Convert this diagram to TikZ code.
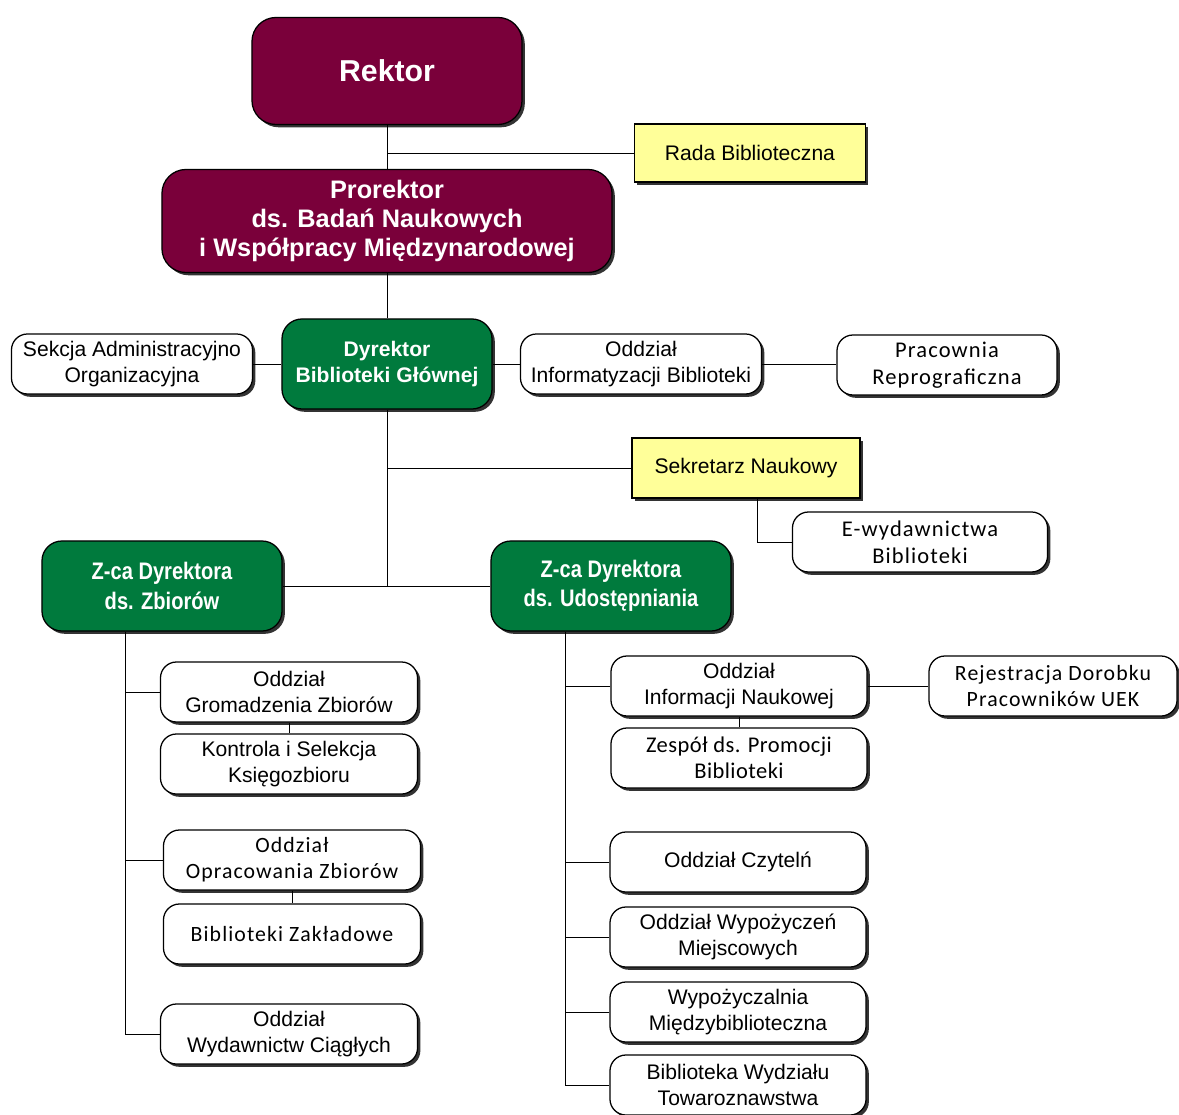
\documentclass[tikz,border=0pt]{standalone}
\usepackage{fontspec}
\setmainfont{Liberation Sans}
\newfontfamily\narrowfont[FakeStretch=0.84]{Liberation Sans}
\newfontfamily\calfont[LetterSpace=5]{Carlito}
\usetikzlibrary{shadows}
\definecolor{rektorred}{RGB}{122,0,58}
\definecolor{dyrgreen}{RGB}{0,122,61}
\definecolor{radayellow}{RGB}{255,255,153}

\begin{document}
\begin{tikzpicture}[x=0.025cm,y=-0.025cm,
  every node/.style={draw,line width=0.9pt,align=center,inner sep=2pt,
    font=\fontsize{15}{18.5}\selectfont,
    drop shadow={shadow xshift=2pt,shadow yshift=-2pt,fill=black!80,opacity=1}},
  unit/.style={rounded corners=0.4cm,fill=white,minimum height=1.5cm},
  calunit/.style={unit,font=\calfont\fontsize{15.5}{18.5}\selectfont},
  yellowbox/.style={fill=radayellow,minimum height=1.5cm},
  redbox/.style={fill=rektorred,text=white,rounded corners=0.6cm},
  greenbox/.style={fill=dyrgreen,text=white,rounded corners=0.5cm,minimum height=2.25cm},
  link/.style={line width=0.7pt}]
  \useasboundingbox (0,0) rectangle (1179,1115);

  % top
  \node[redbox,minimum width=6.75cm,minimum height=2.675cm,font=\bfseries\fontsize{21.5}{24}\selectfont] (rektor) at (387,71) {Rektor};
  \node[yellowbox,minimum width=5.775cm,minimum height=1.45cm] (rada) at (750,153) {Rada Biblioteczna};
  \node[redbox,minimum width=11.25cm,minimum height=2.575cm,font=\bfseries\fontsize{18}{20.6}\selectfont] (prorektor) at (387,221) {Prorektor\\ds. Badań Naukowych\\i Współpracy Międzynarodowej};

  % dyrektor row
  \node[greenbox,minimum width=5.25cm,font=\bfseries\fontsize{15}{18.5}\selectfont] (dyrektor) at (387,364) {Dyrektor\\Biblioteki Głównej};
  \node[unit,minimum width=6.025cm] (sekcja) at (132,364) {Sekcja Administracyjno\\Organizacyjna};
  \node[unit,minimum width=6.025cm] (informat) at (641,364) {Oddział\\Informatyzacji Biblioteki};
  \node[calunit,minimum width=5.5cm,font=\calfont\fontsize{16}{19}\selectfont] (reprogr) at (947,365) {Pracownia\\Reprograficzna};
  \node[yellowbox,minimum width=5.7cm] (sekretarz) at (746,468) {Sekretarz Naukowy};
  \node[calunit,minimum width=6.375cm,font=\calfont\fontsize{16}{19}\selectfont] (ewyd) at (920,542) {E-wydawnictwa\\Biblioteki};

  % zastepcy
  \node[greenbox,minimum width=6cm,font=\narrowfont\bfseries\fontsize{17}{21}\selectfont] (zcazb) at (162,586) {Z-ca Dyrektora\\ds. Zbiorów};
  \node[greenbox,minimum width=6cm,font=\narrowfont\bfseries\fontsize{17}{21}\selectfont] (zcaud) at (611,586) {Z-ca Dyrektora\\ds. Udostępniania};

  % pion zbiorow
  \node[unit,minimum width=6.425cm] (gromadz) at (289,692) {Oddział\\Gromadzenia Zbiorów};
  \node[unit,minimum width=6.425cm] (kontrola) at (289,764) {Kontrola i Selekcja\\Księgozbioru};
  \node[calunit,minimum width=6.425cm] (opracow) at (292,860) {Oddział\\Opracowania Zbiorów};
  \node[calunit,minimum width=6.425cm] (zaklad) at (292,934) {Biblioteki Zakładowe};
  \node[unit,minimum width=6.425cm] (wydciag) at (289,1034) {Oddział\\Wydawnictw Ciągłych};

  % pion udostepniania
  \node[unit,minimum width=6.4cm] (infnauk) at (739,686) {Oddział\\Informacji Naukowej};
  \node[calunit,minimum width=6.2cm] (dorobek) at (1053,686) {Rejestracja Dorobku\\Pracowników UEK};
  \node[calunit,minimum width=6.4cm,font=\calfont\addfontfeature{LetterSpace=2}\fontsize{16}{18.5}\selectfont] (promocja) at (739,758) {Zespół ds. Promocji\\Biblioteki};
  \node[unit,minimum width=6.4cm] (czyteln) at (738,862) {Oddział Czytelń};
  \node[unit,minimum width=6.4cm] (wypmiej) at (738,937) {Oddział Wypożyczeń\\Miejscowych};
  \node[unit,minimum width=6.4cm] (wypmb) at (738,1012) {Wypożyczalnia\\Międzybiblioteczna};
  \node[unit,minimum width=6.4cm] (bibtow) at (738,1085) {Biblioteka Wydziału\\Towaroznawstwa};

  \coordinate (ltrunk) at (125,0);
  \coordinate (rtrunk) at (565,0);

  % links
  \draw[link] (rektor) -- (prorektor);
  \draw[link] (rada.west) -- (rada.west -| rektor.south);
  \draw[link] (prorektor) -- (dyrektor);
  \draw[link] (sekcja.east) -- (sekcja.east -| dyrektor.west);
  \draw[link] (dyrektor.east) -- (dyrektor.east -| informat.west);
  \draw[link] (informat.east) -- (informat.east -| reprogr.west);
  \draw[link] (sekretarz.west) -- (sekretarz.west -| dyrektor.south);
  \draw[link] ([xshift=0.275cm]sekretarz.south) |- (ewyd.west);
  \draw[link] (dyrektor.south) -- (dyrektor.south |- zcazb.east);
  \draw[link] (zcazb.east) -- (zcaud.west);

  \draw[link] (zcazb.south -| ltrunk) -- (wydciag.west -| ltrunk);
  \foreach \n in {gromadz,opracow,wydciag}
    \draw[link] (\n.west) -- (\n.west -| ltrunk);
  \draw[link] (gromadz) -- (kontrola);
  \draw[link] (opracow) -- (zaklad);

  \draw[link] (zcaud.south -| rtrunk) -- (bibtow.west -| rtrunk);
  \foreach \n in {infnauk,czyteln,wypmiej,wypmb,bibtow}
    \draw[link] (\n.west) -- (\n.west -| rtrunk);
  \draw[link] (infnauk) -- (promocja);
  \draw[link] (infnauk) -- (dorobek);
\end{tikzpicture}
\end{document}
